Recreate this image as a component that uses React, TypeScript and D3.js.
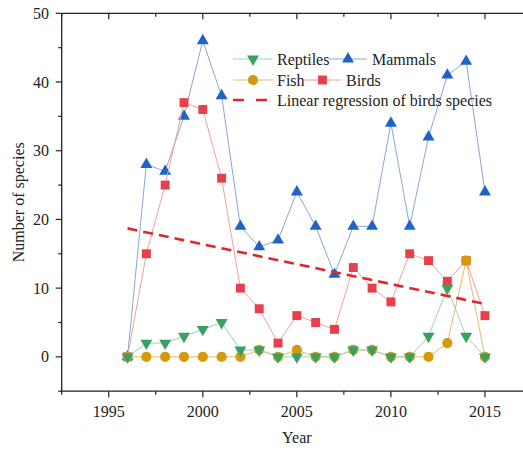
import React from 'react';
import * as d3 from 'd3';

// data
const years = [1996, 1997, 1998, 1999, 2000, 2001, 2002, 2003, 2004, 2005, 2006, 2007, 2008, 2009, 2010, 2011, 2012, 2013, 2014, 2015];
const mammals = [0, 28, 27, 35, 46, 38, 19, 16, 17, 24, 19, 12, 19, 19, 34, 19, 32, 41, 43, 24];
const birds = [0, 15, 25, 37, 36, 26, 10, 7, 2, 6, 5, 4, 13, 10, 8, 15, 14, 11, 14, 6];
const fish = [0, 0, 0, 0, 0, 0, 0, 1, 0, 1, 0, 0, 1, 1, 0, 0, 0, 2, 14, 0];
const reptiles = [0, 2, 2, 3, 4, 5, 1, 1, 0, 0, 0, 0, 1, 1, 0, 0, 3, 10, 3, 0];

const xTicks = [1995, 2000, 2005, 2010, 2015];
const yTicks = [0, 10, 20, 30, 40, 50];

const FONT = '"Liberation Serif", "Times New Roman", serif';
const AXIS = '#222';

const W = 523;
const H = 450;

// plot frame (right edge falls outside the picture, like the reference)
const left = 61.7;
const right = 532;
const top = 13.3;
const bottom = 391.2;

const series = [
  { name: 'Mammals', values: mammals, symbol: 'up', fill: '#1f63c9', line: '#8aa6d6' },
  { name: 'Birds', values: birds, symbol: 'square', fill: '#e8404a', line: '#f0a0a4' },
  { name: 'Fish', values: fish, symbol: 'circle', fill: '#d39a0a', line: '#e2bd6a' },
  { name: 'Reptiles', values: reptiles, symbol: 'down', fill: '#3a9f62', line: '#9ed2b3' },
];

const symbolPath = (kind: string) => {
  if (kind === 'square') return d3.symbol(d3.symbolSquare, 80)()!;
  if (kind === 'circle') return d3.symbol(d3.symbolCircle, 82)()!;
  return d3.symbol(d3.symbolTriangle, 62)()!;
};

const Marker = ({ kind, fill, x, y }: { kind: string; fill: string; x: number; y: number }) => (
  <path
    d={symbolPath(kind)}
    fill={fill}
    transform={`translate(${x},${y})${kind === 'down' ? ' rotate(180)' : ''}`}
  />
);

export default function App() {
  const x = d3.scaleLinear().domain([1992.5, 2017.5]).range([left, right]);
  const y = d3.scaleLinear().domain([-5, 50]).range([bottom, top]);

  // least squares fit of the birds series
  const mx = d3.mean(years)!;
  const my = d3.mean(birds)!;
  const slope =
    d3.sum(years, (yr, i) => (yr - mx) * (birds[i] - my)) / d3.sum(years, (yr) => (yr - mx) ** 2);
  const fit = (yr: number) => my + slope * (yr - mx);
  const x0 = years[0];
  const x1 = years[years.length - 1];

  const line = d3
    .line<number>()
    .x((_, i) => x(years[i]))
    .y((v) => y(v));

  const xMinor = d3.range(1992.5, 2017.6, 2.5).filter((v) => !xTicks.includes(v));
  const yMinor = d3.range(-5, 50.1, 5).filter((v) => !yTicks.includes(v));

  const legendRows = [59, 80, 100];
  const legendItems = [
    { s: series[3], x1: 233, x2: 273, tx: 277, row: 0 },
    { s: series[0], x1: 329, x2: 367, tx: 372, row: 0 },
    { s: series[2], x1: 233, x2: 273, tx: 277, row: 1 },
    { s: series[1], x1: 304, x2: 341, tx: 346, row: 1 },
  ];

  return (
    <svg
      width={W}
      height={H}
      style={{ position: 'absolute', left: 0, top: 0, background: '#fff' }}
      fontFamily={FONT}
    >
      <rect width={W} height={H} fill="#fff" />

      {/* series */}
      {series.map((s) => (
        <g key={s.name}>
          <path d={line(s.values)!} fill="none" stroke={s.line} strokeWidth={1} />
          {s.values.map((v, i) => (
            <Marker key={i} kind={s.symbol} fill={s.fill} x={x(years[i])} y={y(v)} />
          ))}
        </g>
      ))}

      {/* regression of birds */}
      <line
        x1={x(x0)}
        y1={y(fit(x0))}
        x2={x(x1)}
        y2={y(fit(x1))}
        stroke="#e0262b"
        strokeWidth={2.6}
        strokeDasharray="10,6"
      />

      {/* frame */}
      <line x1={left} x2={right} y1={top} y2={top} stroke={AXIS} strokeWidth={1.3} />
      <line x1={left - 1} x2={right} y1={bottom} y2={bottom} stroke={AXIS} strokeWidth={1.3} />
      <line x1={left} x2={left} y1={top} y2={bottom} stroke={AXIS} strokeWidth={1.3} />

      {/* x ticks: outward on bottom, inward on top */}
      {xTicks.map((t) => (
        <g key={t} transform={`translate(${x(t)},0)`}>
          <line y1={bottom} y2={bottom + 6} stroke={AXIS} strokeWidth={1.2} />
          <line y1={top} y2={top + 6} stroke={AXIS} strokeWidth={1.2} />
          <text y={417} textAnchor="middle" fontSize={16} fill="#222">
            {t}
          </text>
        </g>
      ))}
      {xMinor.map((t) => (
        <g key={t} transform={`translate(${x(t)},0)`}>
          <line y1={bottom} y2={bottom + 3.5} stroke={AXIS} strokeWidth={1.2} />
          <line y1={top} y2={top + 3.5} stroke={AXIS} strokeWidth={1.2} />
        </g>
      ))}

      {/* y ticks: outward */}
      {yTicks.map((t) => (
        <g key={t} transform={`translate(0,${y(t)})`}>
          <line x1={left - 6} x2={left} stroke={AXIS} strokeWidth={1.2} />
          <text x={49} dy="0.35em" textAnchor="end" fontSize={16} fill="#222">
            {t}
          </text>
        </g>
      ))}
      {yMinor.map((t) => (
        <line key={t} x1={left - 3.5} x2={left} y1={y(t)} y2={y(t)} stroke={AXIS} strokeWidth={1.2} />
      ))}

      {/* axis titles */}
      <text x={(left + right) / 2} y={443} textAnchor="middle" fontSize={16} fill="#222">
        Year
      </text>
      <text
        transform={`translate(24,${(top + bottom) / 2}) rotate(-90)`}
        textAnchor="middle"
        fontSize={16}
        fill="#222"
      >
        Number of species
      </text>

      {/* legend */}
      {legendItems.map((it) => {
        const cy = legendRows[it.row];
        return (
          <g key={it.s.name}>
            <line x1={it.x1} x2={it.x2} y1={cy} y2={cy} stroke={it.s.line} strokeWidth={1} />
            <Marker kind={it.s.symbol} fill={it.s.fill} x={(it.x1 + it.x2) / 2} y={cy} />
            <text x={it.tx} y={cy} dy="0.35em" fontSize={16} fill="#222">
              {it.s.name}
            </text>
          </g>
        );
      })}
      <line
        x1={233}
        x2={267}
        y1={legendRows[2]}
        y2={legendRows[2]}
        stroke="#e0262b"
        strokeWidth={2.6}
        strokeDasharray="11,12"
      />
      <text x={277} y={legendRows[2]} dy="0.35em" fontSize={16} fill="#222">
        Linear regression of birds species
      </text>
    </svg>
  );
}
